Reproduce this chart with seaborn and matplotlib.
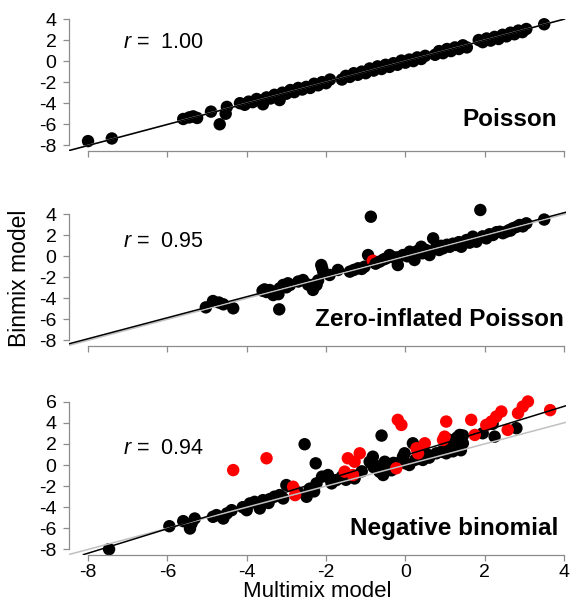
import numpy as np
import pandas as pd
import seaborn as sns
import matplotlib.pyplot as plt

# Poisson panel (Multimix score vs Binmix score)
pois_x = [-8.0, -7.4, -5.6, -5.45, -5.35, -5.25, -4.9, -4.68, -4.53, -4.5,
          -4.17, -4.05, -3.95, -3.85, -3.75, -3.65, -3.59, -3.5, -3.4, -3.3,
          -3.2, -3.17, -3.1, -3.0, -2.9, -2.8, -2.7, -2.6, -2.5, -2.4,
          -2.3, -2.2, -2.1, -2.0, -1.9, -1.6, -1.5, -1.4, -1.3, -1.2,
          -1.1, -1.0, -0.9, -0.8, -0.7, -0.6, -0.5, -0.4, -0.3, -0.2,
          -0.1, 0.0, 0.1, 0.2, 0.3, 0.4, 0.5, 0.75, 0.85, 0.95,
          1.05, 1.15, 1.25, 1.35, 1.45, 1.55, 1.85, 1.95, 2.05, 2.15,
          2.25, 2.35, 2.45, 2.55, 2.65, 2.75, 2.85, 2.95, 3.05, 3.5]
pois_y = [-7.6, -7.35, -5.5, -5.35, -5.25, -5.4, -4.8, -6.0, -5.0, -4.35,
          -4.0, -4.15, -3.85, -3.9, -3.6, -3.75, -4.1, -3.45, -3.55, -3.2,
          -3.35, -3.7, -3.0, -3.1, -2.75, -2.95, -2.55, -2.7, -2.45, -2.55,
          -2.15, -2.3, -2.0, -2.1, -1.75, -1.75, -1.4, -1.5, -1.15, -1.3,
          -1.0, -1.15, -0.7, -0.9, -0.5, -0.75, -0.35, -0.55, -0.2, -0.35,
          0.05, -0.15, 0.15, 0.0, 0.35, 0.2, 0.5, 0.6, 0.95, 0.75,
          1.15, 0.95, 1.3, 1.15, 1.5, 1.3, 2.0, 1.8, 2.15, 1.95,
          2.3, 2.1, 2.5, 2.35, 2.7, 2.55, 2.9, 2.75, 3.05, 3.5]

# Zero-inflated Poisson panel
zip_x = [-5.03, -4.85, -4.7, -4.59, -4.34, -3.6, -3.5, -3.42, -3.33, -3.2,
         -3.18, -3.17, -3.08, -2.96, -2.91, -2.7, -2.58, -2.45, -2.33, -2.24,
         -2.2, -2.12, -2.07, -1.91, -1.7, -1.4, -1.3, -1.19, -1.1, -1.03,
         -0.94, -0.87, -0.82, -0.75, -0.65, -0.55, -0.48, -0.4, -0.3, -0.19,
         -0.06, 0.05, 0.11, 0.23, 0.3, 0.4, 0.43, 0.52, 0.61, 0.7,
         0.78, 0.85, 0.95, 1.05, 1.12, 1.2, 1.28, 1.35, 1.41, 1.54,
         1.62, 1.7, 1.79, 1.89, 1.95, 2.04, 2.12, 2.21, 2.3, 2.38,
         2.46, 2.54, 2.62, 2.71, 2.8, 2.88, 2.96, 3.05, 3.5,
         -3.55, -3.0, -2.35, -2.1, -0.2, 0.15, 0.9, 1.5, 2.65]
zip_y = [-4.86, -4.26, -4.4, -4.57, -4.95, -3.28, -3.4, -3.21, -3.69, -3.6,
         -5.05, -3.05, -2.73, -2.57, -2.73, -2.4, -2.26, -2.7, -3.2, -2.73,
         -2.3, -0.83, -1.46, -1.78, -1.3, -1.46, -1.3, -1.14, -1.2, -0.99,
         0.12, 3.77, -0.42, -0.7, -0.51, -0.3, -0.19, 0.12, -0.1, -0.83,
         0.12, 0.0, 0.44, -0.35, 0.5, 0.91, 0.29, 0.6, 0.12, 1.71,
         0.9, 0.6, 0.76, 1.1, 0.91, 1.2, 1.08, 1.35, 0.91, 1.55,
         1.3, 1.87, 1.39, 4.41, 1.9, 1.71, 2.1, 2.03, 2.3, 2.34,
         2.2, 2.34, 2.5, 2.67, 2.8, 2.98, 2.85, 3.14, 3.5,
         -3.15, -2.95, -2.9, -1.1, -0.1, 0.3, 1.0, 1.3, 2.45]
zip_flag = ['no'] * 32 + ['yes'] + ['no'] * 55

# Negative binomial panel, black points
nb_x = [-7.47, -5.95, -5.6, -5.43, -5.39, -5.31, -4.85, -4.76, -4.59, -4.5,
        -4.38, -4.0, -3.92, -3.8, -3.67, -3.59, -3.42, -3.3, -3.17, -3.08,
        -3.0, -2.54, -2.49, -2.41, -2.3, -2.24, -2.26, -1.95, -1.86, -1.74,
        -1.6, -1.28, -1.1, -0.9, -0.82, -0.77, -0.7, -0.65, -0.6, -0.56,
        -0.52, -0.45, -0.4, -0.3, -0.06, -0.02, 0.0, 0.1, 0.19, 0.25,
        0.4, 0.44, 0.55, 0.78, 0.91, 1.03, 1.12, 1.24, 1.32, 1.37,
        1.45, 1.4, 1.95, 2.25, 2.8,
        -4.1, -3.45, -2.7, -2.1, -1.9, -1.5, -0.8, -0.35, 0.6, 1.2,
        1.1, 1.3, 1.45, 2.2]
nb_y = [-7.98, -5.8, -5.32, -6.02, -5.54, -5.07, -4.91, -4.75, -5.07, -4.59,
        -4.28, -4.28, -3.64, -3.49, -4.12, -3.33, -3.23, -3.0, -2.85, -3.17,
        -1.9, 1.97, -3.01, -2.24, -2.5, -1.74, 0.16, -0.95, -1.74, -1.43,
        -1.1, -1.27, -0.6, 0.31, 0.79, 0.0, -0.4, -0.64, 2.79, -0.95,
        0.31, 0.1, -0.16, 0.2, 0.79, 1.11, 0.16, 0.0, 2.06, 0.5,
        0.79, 0.48, 1.0, 1.11, 1.26, 1.11, 1.9, 1.59, 2.21, 2.85,
        2.06, 1.4, 3.01, 2.69, 3.49,
        -4.0, -3.6, -2.6, -1.1, -1.3, -1.4, -0.2, -0.5, 0.7, 1.3,
        2.4, 2.6, 2.8, 3.9]
# Negative binomial panel, red points
nb_red_x = [-4.34, -3.5, -2.83, -2.78, -1.53, -1.45, -1.32, -1.28, -1.15, -0.23,
            -0.19, -0.1, 0.28, 0.32, 0.49, 0.95, 0.99, 1.03, 1.66, 1.75,
            2.04, 2.17, 2.29, 2.42, 2.58, 2.84, 2.96, 3.09, 3.65]
nb_red_y = [-0.48, 0.64, -2.06, -2.85, -0.63, 0.64, -0.95, 0.31, 1.11, -0.31,
            4.28, 3.8, 1.59, 1.11, 2.06, 2.38, 2.69, 4.12, 4.28, 2.85,
            3.8, 4.12, 4.59, 5.07, 3.33, 4.91, 5.54, 6.02, 5.2]

# fitted lines (slope, intercept) and r values
fits = [(1.0, -0.02), (1.0, 0.15), (1.16, 0.92)]
r_values = ['1.00', '0.95', '0.94']
panel_names = ['Poisson', 'Zero-inflated Poisson', 'Negative binomial']

panels = [
    pd.DataFrame({'multimix': pois_x, 'binmix': pois_y, 'flag': ['no'] * len(pois_x)}),
    pd.DataFrame({'multimix': zip_x, 'binmix': zip_y, 'flag': zip_flag}),
    pd.DataFrame({'multimix': nb_x + nb_red_x, 'binmix': nb_y + nb_red_y,
                  'flag': ['no'] * len(nb_x) + ['yes'] * len(nb_red_x)}),
]

sns.set_style('ticks')
plt.rcParams['font.family'] = ['Liberation Sans', 'DejaVu Sans']
plt.rcParams['mathtext.fontset'] = 'custom'
plt.rcParams['mathtext.it'] = 'Liberation Sans:italic'
plt.rcParams['mathtext.rm'] = 'Liberation Sans'
plt.rcParams['text.color'] = 'black'
plt.rcParams['axes.labelcolor'] = 'black'

fig = plt.figure(figsize=(5.7, 6.03), dpi=100)
W, H = 570, 603
left, right = 69, 566
# (top px, bottom px, ylim)
boxes = [(19, 151, (-8.54, 4.0)), (208, 346, (-8.54, 4.6)), (399.6, 554.7, (-8.5, 6.2))]
yticks = [np.arange(-8, 5, 2), np.arange(-8, 5, 2), np.arange(-8, 7, 2)]
name_pos = [(557, 120), (564, 319), (558, 529)]
r_pos = [43, 242, 448]
axis_grey = '#8c8c8c'

for i, df in enumerate(panels):
    top, bot, ylim = boxes[i]
    ax = fig.add_axes([left / W, 1 - bot / H, (right - left) / W, (bot - top) / H])
    sns.scatterplot(data=df, x='multimix', y='binmix', hue='flag',
                    palette={'no': 'black', 'yes': '#ff0000'}, s=80,
                    linewidth=0, legend=False, ax=ax, clip_on=False, zorder=2)
    ax.set_xlim(-8.48, 4.05)
    ax.set_ylim(*ylim)
    ax.axline((0, 0), slope=1, color='#c0c0c0', lw=1.1, zorder=3)
    slope, icpt = fits[i]
    ax.axline((0, icpt), slope=slope, color='black', lw=1.1, zorder=4)

    ax.set_xticks(np.arange(-8, 5, 2))
    ax.set_yticks(yticks[i])
    ax.spines['top'].set_visible(False)
    ax.spines['right'].set_visible(False)
    ax.spines['left'].set_bounds(yticks[i][0], yticks[i][-1])
    ax.spines['bottom'].set_bounds(-8, 4)
    for sp in ('left', 'bottom'):
        ax.spines[sp].set_color(axis_grey)
        ax.spines[sp].set_linewidth(0.9)
    ax.tick_params(colors=axis_grey, labelcolor='black', length=4, width=0.9,
                   labelsize=14)
    ax.tick_params(axis='y', pad=5)
    ax.tick_params(axis='x', pad=3)
    ax.set_yticklabels([f'{v:g}' for v in yticks[i]])
    ax.set_xlabel('')
    ax.set_ylabel('')
    if i < 2:
        ax.set_xticklabels([])
    else:
        ax.set_xticklabels([f'{v:g}' for v in np.arange(-8, 5, 2)])
        ax.set_xlabel('Multimix model', fontsize=16, labelpad=0)

    fig.text(123 / W, 1 - r_pos[i] / H, '$r$ =  ' + r_values[i], fontsize=15.5,
             ha='left', va='center', color='black')
    nx, ny = name_pos[i]
    fig.text(nx / W, 1 - ny / H, panel_names[i], fontsize=17.5,
             fontweight='bold', ha='right', va='center', color='black')

fig.text(20 / W, 1 - 278 / H, 'Binmix model', fontsize=16.5, rotation=90,
         ha='center', va='center', color='black')

fig.savefig('out.png', dpi=100)
